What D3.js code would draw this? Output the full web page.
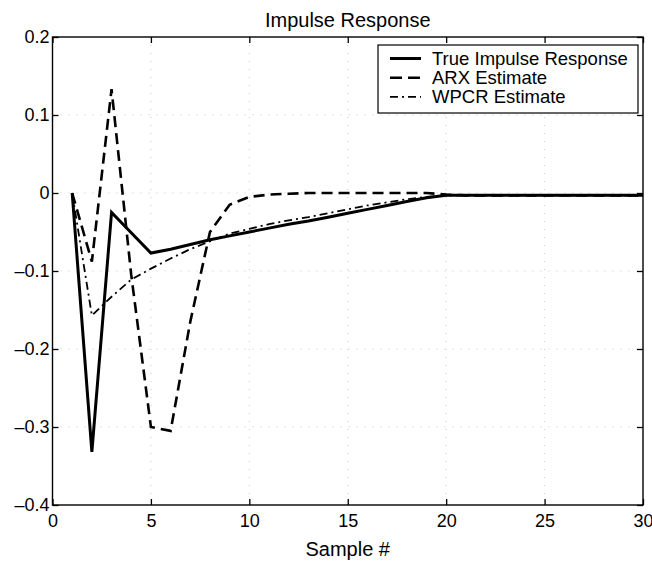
<!DOCTYPE html>
<html>
<head>
<meta charset="utf-8">
<script src="https://cdn.jsdelivr.net/npm/d3@7"></script>
<style>
  body { margin: 0; background: #fff; }
  svg { display: block; font-family: Arial, "Liberation Sans", Helvetica, sans-serif; }
</style>
</head>
<body>
<svg id="chart" width="652" height="565"></svg>
<script>
// ---- data ----
const samples = [1,2,3,4,5,6,7,8,9,10,11,12,13,14,15,16,17,18,19,20,21,22,23,24,25,26,27,28,29,30];
const trueImpulse = [0,-0.332,-0.025,-0.051,-0.077,-0.072,-0.066,-0.060,-0.055,-0.050,-0.045,-0.040,-0.036,-0.031,-0.026,-0.021,-0.016,-0.011,-0.006,-0.003,-0.003,-0.003,-0.003,-0.003,-0.003,-0.003,-0.003,-0.003,-0.003,-0.003];
const arxEstimate = [0,-0.088,0.133,-0.105,-0.300,-0.305,-0.165,-0.050,-0.015,-0.005,-0.002,-0.001,0,0,0,0,0,0,0,-0.002,-0.003,-0.003,-0.003,-0.003,-0.003,-0.003,-0.003,-0.003,-0.003,-0.003];
const wpcrEstimate = [0,-0.157,-0.133,-0.111,-0.097,-0.084,-0.072,-0.062,-0.052,-0.046,-0.040,-0.035,-0.031,-0.026,-0.021,-0.016,-0.012,-0.008,-0.005,-0.003,-0.003,-0.003,-0.003,-0.003,-0.003,-0.003,-0.003,-0.003,-0.003,-0.003];
const seriesNames = ["True Impulse Response","ARX Estimate","WPCR Estimate"];
const xTicks = [0,5,10,15,20,25,30];
const yTicks = [-0.4,-0.3,-0.2,-0.1,0,0.1,0.2];
const titleText = "Impulse Response";
const xLabel = "Sample #";

// ---- layout ----
const L = 52.5, R = 643, T = 37, B = 505;
const svg = d3.select("#chart");
const x = d3.scaleLinear().domain([0,30]).range([L,R]);
const y = d3.scaleLinear().domain([-0.4,0.2]).range([B,T]);

const fmtY = v => (v < 0 ? "\u2013" : "") + (v === 0 ? "0" : Math.abs(v).toFixed(1));

// grid (dotted, faint)
const grid = svg.append("g").attr("stroke","#c8c8c8").attr("stroke-width",1).attr("stroke-dasharray","1,7");
grid.selectAll("line.gx").data(xTicks.slice(1,-1)).join("line")
  .attr("x1",d=>x(d)).attr("x2",d=>x(d)).attr("y1",T).attr("y2",B);
grid.selectAll("line.gy").data(yTicks.slice(1,-1)).join("line")
  .attr("x1",L).attr("x2",R).attr("y1",d=>y(d)).attr("y2",d=>y(d));

// axes with inward ticks
const axB = d3.axisBottom(x).tickValues(xTicks).tickSize(-6).tickPadding(9).tickFormat(d3.format("d"));
const axT = d3.axisTop(x).tickValues(xTicks).tickSize(-6).tickFormat("");
const axLft = d3.axisLeft(y).tickValues(yTicks).tickSize(-6).tickPadding(3).tickFormat(fmtY);
const axRt = d3.axisRight(y).tickValues(yTicks).tickSize(-6).tickFormat("");

function styleAxis(g){
  g.select(".domain").remove();
  g.selectAll("line").attr("stroke","#000").attr("stroke-width",1.3);
  g.selectAll("text").attr("fill","#000").attr("font-size",18).attr("font-family","Arial, 'Liberation Sans', sans-serif");
}
svg.append("g").attr("transform",`translate(0,${B})`).call(axB).call(styleAxis);
svg.append("g").attr("transform",`translate(0,${T})`).call(axT).call(styleAxis);
svg.append("g").attr("transform",`translate(${L},0)`).call(axLft).call(styleAxis);
svg.append("g").attr("transform",`translate(${R},0)`).call(axRt).call(styleAxis);

// frame
svg.append("rect").attr("x",L).attr("y",T).attr("width",R-L).attr("height",B-T)
  .attr("fill","none").attr("stroke","#000").attr("stroke-width",1.4);

// series
const styles = [
  {data: trueImpulse, width: 3, dash: null},
  {data: arxEstimate, width: 2.6, dash: "11,6"},
  {data: wpcrEstimate, width: 1.8, dash: "8,4,2,4"}
];
const line = d3.line().x((d,i)=>x(samples[i])).y(d=>y(d));
styles.forEach(s=>{
  svg.append("path").datum(s.data).attr("d",line)
    .attr("fill","none").attr("stroke","#000").attr("stroke-width",s.width)
    .attr("stroke-dasharray",s.dash).attr("stroke-linejoin","miter");
});

// title & labels
svg.append("text").attr("x",(L+R)/2).attr("y",26.5).attr("text-anchor","middle")
  .attr("font-size",20).text(titleText);
svg.append("text").attr("x",(L+R)/2).attr("y",556).attr("text-anchor","middle")
  .attr("font-size",20).text(xLabel);

// legend
const lg = svg.append("g");
lg.append("rect").attr("x",378).attr("y",45).attr("width",260).attr("height",68)
  .attr("fill","#fff").attr("stroke","#000").attr("stroke-width",1.2);
seriesNames.forEach((n,i)=>{
  const yy = 58.5 + i*19.2;
  lg.append("line").attr("x1",390).attr("x2",421).attr("y1",yy).attr("y2",yy)
    .attr("stroke","#000").attr("stroke-width",styles[i].width)
    .attr("stroke-dasharray",i===1 ? "12,6" : styles[i].dash);
  lg.append("text").attr("x",432).attr("y",yy+6.5).attr("font-size",18.5).text(n);
});
</script>
</body>
</html>
